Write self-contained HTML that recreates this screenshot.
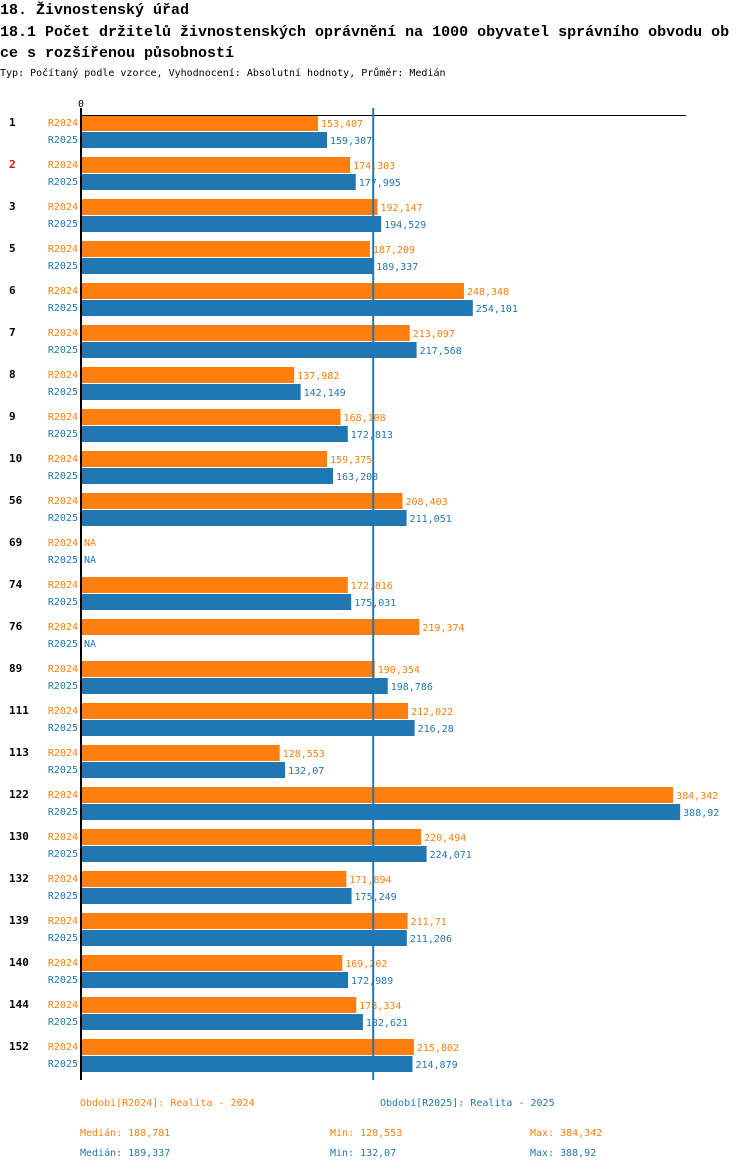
<!DOCTYPE html>
<html><head><meta charset="utf-8"><style>
body{margin:0;background:#fff;width:750px;height:1170px;overflow:hidden;font-family:"DejaVu Sans Mono","Liberation Mono",monospace}
svg text{font-family:"DejaVu Sans Mono","Liberation Mono",monospace}
svg text.t{font-family:"Liberation Mono","DejaVu Sans Mono",monospace}
</style></head><body>
<svg id="c" width="750" height="1170" xmlns="http://www.w3.org/2000/svg">
<text class="t" x="0" y="14" font-size="15" font-weight="bold">18. Živnostenský úřad</text>
<text class="t" x="0" y="36" font-size="15" font-weight="bold">18.1 Počet držitelů živnostenských oprávnění na 1000 obyvatel správního obvodu ob</text>
<text class="t" x="0" y="57" font-size="15" font-weight="bold">ce s rozšířenou působností</text>
<text x="0" y="76" font-size="10">Typ: Počítaný podle vzorce, Vyhodnocení: Absolutní hodnoty, Průměr: Medián</text>
<g id="bars"></g>
<text x="80" y="1106" font-size="10" fill="#ff7f0e">Období[R2024]: Realita - 2024</text>
<text x="380" y="1106" font-size="10" fill="#1f77b4">Období[R2025]: Realita - 2025</text>
<text x="80" y="1136" font-size="10" fill="#ff7f0e">Medián: 188,781</text>
<text x="330" y="1136" font-size="10" fill="#ff7f0e">Min: 128,553</text>
<text x="530" y="1136" font-size="10" fill="#ff7f0e">Max: 384,342</text>
<text x="80" y="1156" font-size="10" fill="#1f77b4">Medián: 189,337</text>
<text x="330" y="1156" font-size="10" fill="#1f77b4">Min: 132,07</text>
<text x="530" y="1156" font-size="10" fill="#1f77b4">Max: 388,92</text>
</svg>
<script>
const categories=["1","2","3","5","6","7","8","9","10","56","69","74","76","89","111","113","122","130","132","139","140","144","152"];
const r2024=[153.407,174.303,192.147,187.209,248.348,213.097,137.982,168.108,159.375,208.403,null,172.816,219.374,190.354,212.022,128.553,384.342,220.494,171.894,211.71,169.202,178.334,215.802];
const r2025=[159.307,177.995,194.529,189.337,254.101,217.568,142.149,172.813,163.208,211.051,null,175.031,null,198.786,216.28,132.07,388.92,224.071,175.249,211.206,172.989,182.621,214.879];
const medianValue=189.337;
const NS="http://www.w3.org/2000/svg";
const g=document.getElementById('bars');
const x0=82,scale=1.538,top0=115,step=42;
const xs=v=>x0+v*scale;
function mk(t,a){const e=document.createElementNS(NS,t);for(const k in a)e.setAttribute(k,a[k]);g.appendChild(e);return e;}
function fmt(v){return String(v).replace('.',',');}
const colors=["#ff7f0e","#1f77b4"],names=["R2024","R2025"];
categories.forEach((c,i)=>{
  const y=top0+i*step;
  const t=mk('text',{x:9,y:y+11,'font-size':11,'font-weight':'bold',fill:c==="2"?"#ff0000":"#000"});t.textContent=c;
  
  
  [r2024[i],r2025[i]].forEach((v,s)=>{
    const yy=y+s*17;
    const l=mk('text',{x:78,y:yy+11,'font-size':10,fill:colors[s],'text-anchor':'end'});l.textContent=names[s];
    
    
    if(v==null){const n=mk('text',{x:84,y:yy+11,'font-size':10,fill:colors[s]});n.textContent="NA";
      
      return;}
    const r=mk('rect',{x:x0,y:yy,width:v*scale,height:16,fill:colors[s]});
    
    
    const vl=mk('text',{x:xs(v)+3,y:yy+12,'font-size':10,fill:colors[s]});vl.textContent=fmt(v);
    
    
  });
});
const ax=mk('line',{x1:81,y1:108,x2:81,y2:1080,stroke:"#000",'stroke-width':2});


const tl=mk('line',{x1:81,y1:115.5,x2:686,y2:115.5,stroke:"#000",'stroke-width':1,'shape-rendering':'crispEdges'});


const z=mk('text',{x:78,y:107,'font-size':10});z.textContent="0";


const md=mk('line',{x1:xs(medianValue),y1:108,x2:xs(medianValue),y2:1080,stroke:"#1f77b4",'stroke-width':2});


</script>
</body></html>
